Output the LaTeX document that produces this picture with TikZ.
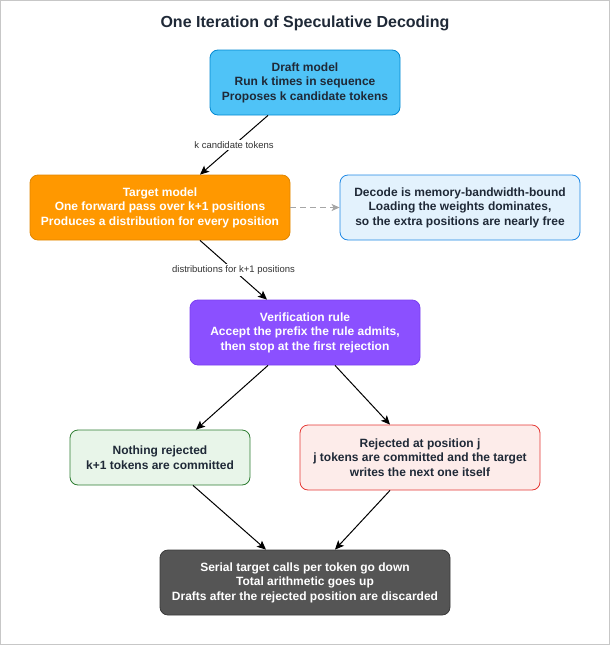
\documentclass[tikz,border=0pt]{standalone}
\usepackage{fontspec}
\setmainfont{Liberation Sans}
\usetikzlibrary{arrows.meta}
\usetikzlibrary{calc}
\definecolor{inkdark}{HTML}{1F2937}
\definecolor{labelgray}{HTML}{333333}
\definecolor{draftfill}{HTML}{4FC3F7}
\definecolor{draftline}{HTML}{0288D1}
\definecolor{targetfill}{HTML}{FF9800}
\definecolor{targetline}{HTML}{E08600}
\definecolor{notefill}{HTML}{E3F2FD}
\definecolor{noteline}{HTML}{1E88E5}
\definecolor{verifyfill}{HTML}{8B50FF}
\definecolor{verifyline}{HTML}{7A3FF0}
\definecolor{okfill}{HTML}{E8F5E9}
\definecolor{okline}{HTML}{2E7D32}
\definecolor{rejfill}{HTML}{FDECEA}
\definecolor{rejline}{HTML}{E53935}
\definecolor{resultfill}{HTML}{555555}
\definecolor{resultline}{HTML}{3A3A3A}
\tikzset{
box/.style={draw, rounded corners=8pt, line width=0.8pt, align=center,
    inner sep=0pt, text=inkdark,
    font=\bfseries\fontsize{12}{14.5}\selectfont},
flow/.style={-{Stealth[length=9pt,width=8pt,inset=2pt]}, line width=1pt},
lbl/.style={font=\fontsize{9.5}{11}\selectfont, text=labelgray, fill=white,
    inner sep=1.5pt},
}

\begin{document}
\begin{tikzpicture}[x=1pt,y=-1pt]
    \useasboundingbox (0,0) rectangle (610,645);
    \draw[black!22] (0.5,0.5) rectangle (609.5,644.5);
    \node[font=\bfseries\fontsize{16}{18}\selectfont, text=inkdark] (title) at (305,23.5)
        {One Iteration of Speculative Decoding};
    \node[box, fill=draftfill, draw=draftline, minimum width=190pt, minimum height=65pt] (draft) at (305,82.5)
        {Draft model\\Run k times in sequence\\Proposes k candidate tokens};
    \node[box, fill=targetfill, draw=targetline, text=white, minimum width=260pt, minimum height=65pt] (target) at (160,207.5)
        {Target model\\One forward pass over k+1 positions\\Produces a distribution for every position};
    \node[box, fill=notefill, draw=noteline, minimum width=240pt, minimum height=65pt] (note) at (460,207.5)
        {Decode is memory-bandwidth-bound\\Loading the weights dominates,\\so the extra positions are nearly free};
    \node[box, fill=verifyfill, draw=verifyline, text=white, minimum width=230pt, minimum height=65pt] (verify) at (305,332.5)
        {Verification rule\\Accept the prefix the rule admits,\\then stop at the first rejection};
    \node[box, fill=okfill, draw=okline, minimum width=180pt, minimum height=55pt] (nothing) at (160,457.5)
        {Nothing rejected\\k+1 tokens are committed};
    \node[box, fill=rejfill, draw=rejline, minimum width=240pt, minimum height=65pt] (rejected) at (420,457.5)
        {Rejected at position j\\j tokens are committed and the target\\writes the next one itself};
    \node[box, fill=resultfill, draw=resultline, text=white, minimum width=290pt, minimum height=65pt] (result) at (305,582.5)
        {Serial target calls per token go down\\Total arithmetic goes up\\Drafts after the rejected position are discarded};
    % connectors
    \draw[flow] ($(draft.south)+(-37,0)$) -- node[lbl] {k candidate tokens} ($(target.north)+(40,0)$);
    \draw[flow] ($(target.south)+(40,0)$) -- node[lbl] {distributions for k+1 positions} ($(verify.north)+(-38,0)$);
    \draw[-{Stealth[length=8pt,width=7pt,inset=2pt]}, line width=1.3pt, dash pattern=on 6pt off 4pt, black!35] (target.east) -- (note.west);
    \draw[flow] ($(verify.south)+(-37,0)$) -- ($(nothing.north)+(36,0)$);
    \draw[flow] ($(verify.south)+(30,0)$) -- ($(rejected.north)+(-30,0)$);
    \draw[flow] ($(nothing.south)+(33,0)$) -- ($(result.north)+(-39,0)$);
    \draw[flow] ($(rejected.south)+(-30,0)$) -- ($(result.north)+(30,0)$);
\end{tikzpicture}
\end{document}
